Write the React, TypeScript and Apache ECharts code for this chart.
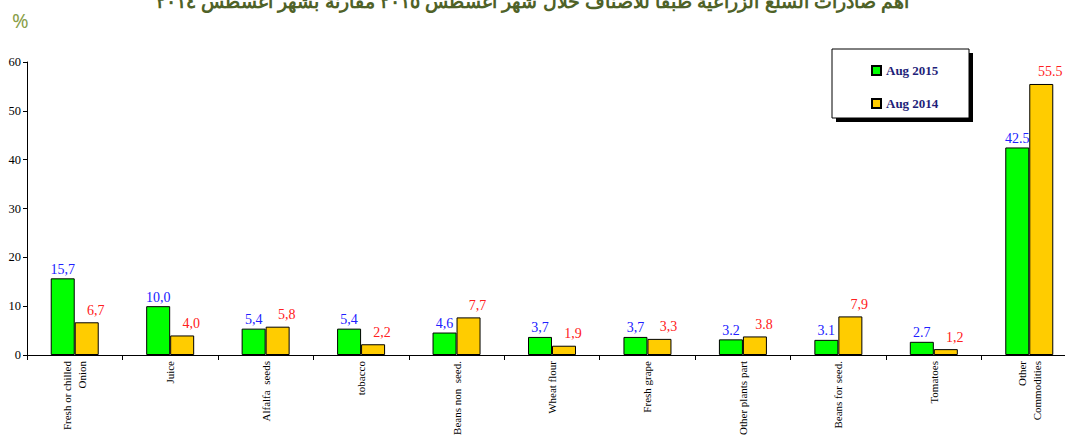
import React, { useEffect, useRef } from "react";
import * as echarts from "echarts";

const categories = [
  "Fresh or chilled\nOnion",
  "Juice",
  "Alfalfa  seeds",
  "tobacco",
  "Beans non  seed.",
  "Wheat flour",
  "Fresh grape",
  "Other plants part",
  "Beans for seed.",
  "Tomatoes",
  "Other\nCommodities",
];
const values2015 = [15.7, 10.0, 5.4, 5.4, 4.6, 3.7, 3.7, 3.2, 3.1, 2.7, 42.5];
const values2014 = [6.7, 4.0, 5.8, 2.2, 7.7, 1.9, 3.3, 3.8, 7.9, 1.2, 55.5];
const labels2015 = ["15,7", "10,0", "5,4", "5,4", "4,6", "3,7", "3,7", "3.2", "3.1", "2.7", "42.5"];
const labels2014 = ["6,7", "4,0", "5,8", "2,2", "7,7", "1,9", "3,3", "3.8", "7,9", "1,2", "55.5"];
const yTicks = [0, 10, 20, 30, 40, 50, 60];

const TITLE = "أهم صادرات السلع الزراعية طبقاً للأصناف خلال شهر أغسطس ٢٠١٥ مقارنة بشهر أغسطس ٢٠١٤";
const SERIF = "'Liberation Serif', 'Times New Roman', serif";

export default function App() {
  const ref = useRef<HTMLDivElement>(null);
  useEffect(() => {
    const chart = echarts.init(ref.current!, null, { renderer: "svg" });
    chart.setOption({
      animation: false,
      backgroundColor: "#ffffff",
      grid: { left: 27, right: -12, top: 62, bottom: 80, containLabel: false, outerBoundsMode: "none" },
      graphic: [
        {
          type: "text",
          left: "center",
          top: -8,
          style: {
            text: TITLE,
            font: "bold 19px 'Liberation Sans', 'Noto Sans', sans-serif",
            fill: "#4F6228",
            textShadowColor: "rgba(0,0,0,0.35)",
            textShadowOffsetX: 1,
            textShadowOffsetY: 1,
          },
        },
        {
          type: "text",
          left: 12,
          top: 10,
          style: {
            text: "%",
            font: "20px 'Noto Sans', sans-serif",
            fill: "#8AA04A",
            textShadowColor: "rgba(0,0,0,0.25)",
            textShadowOffsetX: 1,
            textShadowOffsetY: 1,
          },
        },
        {
          type: "rect",
          z: 1,
          shape: { x: 836, y: 53, width: 137, height: 69 },
          style: { fill: "#000000" },
        },
        {
          type: "rect",
          z: 2,
          shape: { x: 832, y: 49, width: 137, height: 69 },
          style: { fill: "#ffffff", stroke: "#000000", lineWidth: 1 },
        },
      ],
      legend: {
        orient: "vertical",
        left: 866,
        top: 59,
        itemWidth: 9,
        itemHeight: 9,
        itemGap: 20,
        z: 10,
        icon: "rect",
        textStyle: { fontFamily: SERIF, fontWeight: "bold", fontSize: 13, color: "#1F1F7A" },
        data: ["Aug 2015", "Aug 2014"],
      },
      xAxis: {
        type: "category",
        data: categories,
        axisLine: { lineStyle: { color: "#000000", width: 1 } },
        axisTick: { show: true, alignWithLabel: false, length: 5, lineStyle: { color: "#000000" } },
        axisLabel: {
          rotate: 90,
          interval: 0,
          margin: 6,
          fontFamily: SERIF,
          fontSize: 11,
          lineHeight: 15,
          color: "#000000",
          align: "right",
        },
      },
      yAxis: {
        type: "value",
        min: 0,
        max: 60,
        interval: 10,
        axisLine: { show: true, lineStyle: { color: "#000000", width: 1 } },
        axisTick: { show: true, length: 4, lineStyle: { color: "#000000" } },
        splitLine: { show: false },
        axisLabel: {
          fontFamily: SERIF,
          fontSize: 12.5,
          color: "#000000",
          margin: 6,
          formatter: (v: number) => (yTicks.includes(v) ? String(v) : ""),
        },
      },
      series: [
        {
          name: "Aug 2015",
          type: "bar",
          data: values2015,
          barWidth: 24,
          barGap: "0%",
          itemStyle: { color: "#00FF00", borderColor: "#000000", borderWidth: 1 },
          label: {
            show: true,
            position: "top",
            distance: 2,
            fontFamily: SERIF,
            fontSize: 14,
            color: "#2020FF",
            formatter: (p: any) => labels2015[p.dataIndex],
          },
        },
        {
          name: "Aug 2014",
          type: "bar",
          data: values2014,
          barWidth: 24,
          itemStyle: { color: "#FFCC00", borderColor: "#000000", borderWidth: 1 },
          label: {
            show: true,
            position: "top",
            distance: 5,
            offset: [9, 0],
            fontFamily: SERIF,
            fontSize: 14,
            color: "#FF2020",
            formatter: (p: any) => labels2014[p.dataIndex],
          },
        },
      ],
    });
    return () => chart.dispose();
  }, []);
  return <div ref={ref} style={{ width: 1065, height: 435, position: "absolute", left: 0, top: 0 }} />;
}
